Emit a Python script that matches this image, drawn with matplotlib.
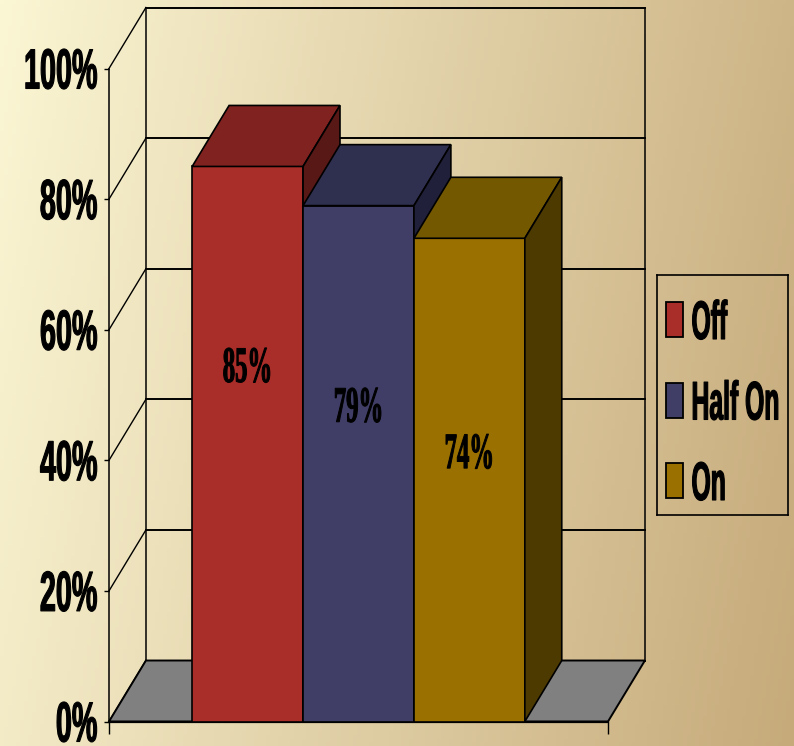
import matplotlib
matplotlib.use("Agg")
import matplotlib.pyplot as plt
import numpy as np
from matplotlib import patheffects, font_manager
from matplotlib.patches import Polygon, Rectangle
from matplotlib.transforms import Affine2D, offset_copy

# chart data
series = ["Off", "Half On", "On"]
values = [85, 79, 74]
value_labels = ["85%", "79%", "74%"]
y_ticks = [0, 20, 40, 60, 80, 100]
y_tick_labels = ["0%", "20%", "40%", "60%", "80%", "100%"]

front_colors = ["#A92D28", "#403E66", "#9A7000"]
top_colors = ["#80221F", "#2F2F4F", "#735800"]
side_colors = ["#581816", "#20203A", "#4D3A00"]

# where the value labels sit (percent of axis)
label_y = [52.0, 45.9, 38.8]

GAP = 0.75            # half of a 150% gap width, in bar widths
DX, DY = 0.333, 9.34  # 3d depth offset (bar widths, percent)


class Stretch(patheffects.AbstractPathEffect):
    """Draw text stretched vertically from its baseline, with a thin outline to thicken it."""

    def __init__(self, sy, lw=0.0):
        super().__init__()
        self.sy = sy
        self.lw = lw

    def draw_path(self, renderer, gc, tpath, affine, rgbFace=None):
        gc0 = renderer.new_gc()
        gc0.copy_properties(gc)
        gc0.set_linewidth(self.lw)
        gc0.set_joinstyle("round")
        if rgbFace is not None:
            gc0.set_foreground(rgbFace)
        renderer.draw_path(gc0, tpath, Affine2D().scale(1, self.sy) + affine, rgbFace)
        gc0.restore()


installed = {f.name for f in font_manager.fontManager.ttflist}
if "Liberation Sans Narrow" in installed:
    sans, tick_size, tick_sy, leg_size, leg_sy = "Liberation Sans Narrow", 25.5, 1.61, 21.8, 1.8
else:
    sans, tick_size, tick_sy, leg_size, leg_sy = "Liberation Sans", 20.7, 1.97, 17.8, 2.2

fig = plt.figure(figsize=(7.94, 7.46), dpi=100)

# background gradient
bg = fig.add_axes([0, 0, 1, 1], zorder=-10)
gx, gy = np.meshgrid(np.linspace(0, 1, 200), np.linspace(0, 1, 200))
t = np.clip(gx * 0.85 + gy * 0.15, 0, 1)[..., None]
c0 = np.array([251, 246, 212]) / 255
c1 = np.array([198, 170, 122]) / 255
bg.imshow(c0 + (c1 - c0) * t, extent=[0, 1, 0, 1], aspect="auto", origin="upper")
bg.axis("off")

ax = fig.add_axes([109 / 794, 24.5 / 746, 499 / 794, 653 / 746])
ax.patch.set_alpha(0)
x0, x1 = -GAP, len(values) + GAP
ax.set_xlim(x0, x1)
ax.set_ylim(0, 100)

# back wall, side wall and floor
for y in y_ticks:
    ax.plot([x0 + DX, x1 + DX], [y + DY, y + DY], color="black", lw=1.4, clip_on=False, zorder=1)
    ax.plot([x0, x0 + DX], [y, y + DY], color="black", lw=1.0, clip_on=False, zorder=1)
for xb in (x0 + DX, x1 + DX):
    ax.plot([xb, xb], [DY, 100 + DY], color="black", lw=1.1, clip_on=False, zorder=1)
ax.add_patch(Polygon([(x0, 0), (x1, 0), (x1 + DX, DY), (x0 + DX, DY)],
                     facecolor="#808080", edgecolor="black", lw=1.4, clip_on=False, zorder=2))

# bars
for i, v in enumerate(values):
    l, r = i, i + 1
    kw = dict(edgecolor="black", lw=1.2, clip_on=False, zorder=3 + i, joinstyle="miter")
    ax.add_patch(Polygon([(l, 0), (r, 0), (r, v), (l, v)], facecolor=front_colors[i], **kw))
    ax.add_patch(Polygon([(l, v), (r, v), (r + DX, v + DY), (l + DX, v + DY)], facecolor=top_colors[i], **kw))
    ax.add_patch(Polygon([(r, 0), (r + DX, DY), (r + DX, v + DY), (r, v)], facecolor=side_colors[i], **kw))
    ax.text(i + 0.5, label_y[i], value_labels[i], ha="center", va="baseline",
            family=["Liberation Serif", "DejaVu Serif"], fontweight="bold", fontsize=17.8,
            path_effects=[Stretch(2.07, lw=0.7)], zorder=10)

# axes lines and ticks
for s in ("top", "right"):
    ax.spines[s].set_visible(False)
ax.spines["left"].set_linewidth(1.1)
ax.spines["bottom"].set_linewidth(1.6)
ax.set_yticks(y_ticks)
ax.set_yticklabels([])
ax.set_xticks([x0, x1])
ax.set_xticklabels([])
ax.tick_params(axis="y", direction="out", length=3.6, width=1)
ax.tick_params(axis="x", direction="out", length=8.6, width=1)

lab_trans = offset_copy(ax.get_yaxis_transform(), fig=fig, x=-11.5, y=-20, units="dots")
for y, lab in zip(y_ticks, y_tick_labels):
    ax.text(0, y, lab, transform=lab_trans, ha="right", va="baseline",
            family=[sans, "DejaVu Sans"], fontweight="bold", fontsize=tick_size,
            path_effects=[Stretch(tick_sy, lw=0.8)], clip_on=False)

# legend box
lax = fig.add_axes([657 / 794, 231 / 746, 131 / 794, 240 / 746])
lax.set_xlim(0, 131)
lax.set_ylim(240, 0)
lax.set_xticks([])
lax.set_yticks([])
lax.patch.set_alpha(0)
for s in lax.spines.values():
    s.set_linewidth(1.2)
for i, name in enumerate(series):
    top = 27 + 80.5 * i
    lax.add_patch(Rectangle((9, top), 17, 35, facecolor=front_colors[i], edgecolor="black", lw=1.3))
    lax.text(34.5, top + 37, name, ha="left", va="baseline",
             family=[sans, "DejaVu Sans"], fontweight="bold", fontsize=leg_size,
             path_effects=[Stretch(leg_sy, lw=0.8)])

fig.savefig("out.png", dpi=100)
